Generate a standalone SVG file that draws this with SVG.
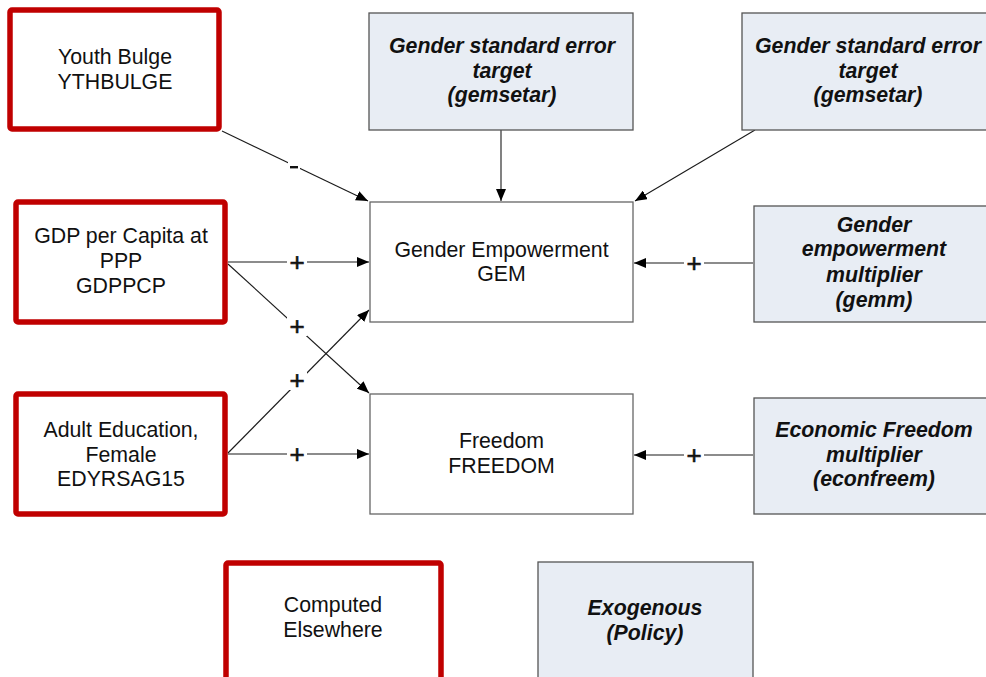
<svg xmlns="http://www.w3.org/2000/svg" width="986" height="677" viewBox="0 0 986 677">
  <defs>
    <marker id="arrow" viewBox="0 0 12 10" refX="12" refY="5" markerWidth="12" markerHeight="10" markerUnits="userSpaceOnUse" orient="auto">
      <path d="M0,0 L12,5 L0,10 Z" fill="#000"/>
    </marker>
    <style>
      text { font-family: "Liberation Sans", Arial, sans-serif; font-size: 21.3px; fill: #111; text-anchor: middle; }
      .bi { font-weight: bold; font-style: italic; }
      .computed { fill: #fff; stroke: #c00000; stroke-width: 5.5; }
      .model { fill: #fff; stroke: #666; stroke-width: 1.3; }
      .policy { fill: #e8edf4; stroke: #555; stroke-width: 1.3; }
      .link { stroke: #1a1a1a; stroke-width: 1.1; fill: none; marker-end: url(#arrow); }
      .sign { font-size: 26px; stroke: #111; stroke-width: 0.6; }
      .pad { fill: #fff; }
    </style>
  </defs>

  <rect width="986" height="677" fill="#fff"/>

  <!-- connectors -->
  <g id="connectors">
    <line class="link" x1="222" y1="131" x2="368" y2="201"/>
    <line class="link" x1="228" y1="262" x2="369" y2="262"/>
    <line class="link" x1="228" y1="264" x2="369" y2="393"/>
    <line class="link" x1="228" y1="453" x2="369" y2="310"/>
    <line class="link" x1="228" y1="454" x2="369" y2="454"/>
    <line class="link" x1="501" y1="130" x2="501" y2="201"/>
    <line class="link" x1="755" y1="130" x2="635" y2="201"/>
    <line class="link" x1="753" y1="263" x2="634" y2="263"/>
    <line class="link" x1="753" y1="455" x2="634" y2="455"/>

    <!-- polarity labels -->
    <rect class="pad" x="288" y="161" width="12" height="11"/>
    <rect x="290" y="166" width="8" height="2.4" fill="#111"/>
    <rect class="pad" x="287" y="252" width="20" height="20"/>
    <text class="sign" x="297" y="271">+</text>
    <rect class="pad" x="287" y="316" width="20" height="20"/>
    <text class="sign" x="297" y="335">+</text>
    <rect class="pad" x="287" y="370" width="20" height="20"/>
    <text class="sign" x="297" y="389">+</text>
    <rect class="pad" x="287" y="444" width="20" height="20"/>
    <text class="sign" x="297" y="463">+</text>
    <rect class="pad" x="684" y="253" width="20" height="20"/>
    <text class="sign" x="694" y="272">+</text>
    <rect class="pad" x="684" y="445" width="20" height="20"/>
    <text class="sign" x="694" y="464">+</text>
  </g>

  <g id="youth-bulge">
    <rect class="computed" x="10" y="10" width="209" height="119" rx="2"/>
    <text x="115" y="64">Youth Bulge</text>
    <text x="115" y="89">YTHBULGE</text>
  </g>

  <g id="gdppcp">
    <rect class="computed" x="16" y="202" width="209" height="120" rx="2"/>
    <text x="121" y="243">GDP per Capita at</text>
    <text x="121" y="268">PPP</text>
    <text x="121" y="293">GDPPCP</text>
  </g>

  <g id="edyrsag15">
    <rect class="computed" x="16" y="394" width="209" height="120" rx="2"/>
    <text x="121" y="437">Adult Education,</text>
    <text x="121" y="462">Female</text>
    <text x="121" y="486">EDYRSAG15</text>
  </g>

  <g id="gemsetar-1">
    <rect class="policy" x="369" y="13" width="264" height="117"/>
    <text class="bi" x="502" y="53">Gender standard error</text>
    <text class="bi" x="502" y="78">target</text>
    <text class="bi" x="502" y="102">(gemsetar)</text>
  </g>

  <g id="gemsetar-2">
    <rect class="policy" x="742" y="13" width="264" height="117"/>
    <text class="bi" x="868" y="53">Gender standard error</text>
    <text class="bi" x="868" y="78">target</text>
    <text class="bi" x="868" y="102">(gemsetar)</text>
  </g>

  <g id="gem">
    <rect class="model" x="370" y="202" width="263" height="120"/>
    <text x="501.5" y="257">Gender Empowerment</text>
    <text x="501.5" y="281">GEM</text>
  </g>

  <g id="gemm">
    <rect class="policy" x="754" y="206" width="242" height="116"/>
    <text class="bi" x="874" y="232">Gender</text>
    <text class="bi" x="874" y="256">empowerment</text>
    <text class="bi" x="874" y="282">multiplier</text>
    <text class="bi" x="874" y="307">(gemm)</text>
  </g>

  <g id="freedom">
    <rect class="model" x="370" y="394" width="263" height="120"/>
    <text x="501.5" y="448">Freedom</text>
    <text x="501.5" y="473">FREEDOM</text>
  </g>

  <g id="econfreem">
    <rect class="policy" x="754" y="398" width="242" height="116"/>
    <text class="bi" x="874" y="437">Economic Freedom</text>
    <text class="bi" x="874" y="462">multiplier</text>
    <text class="bi" x="874" y="486">(econfreem)</text>
  </g>

  <g id="legend-computed">
    <rect class="computed" x="226" y="563" width="215" height="120" rx="2"/>
    <text x="333" y="612">Computed</text>
    <text x="333" y="637">Elsewhere</text>
  </g>

  <g id="legend-exogenous">
    <rect class="policy" x="538" y="562" width="215" height="120"/>
    <text class="bi" x="645" y="615">Exogenous</text>
    <text class="bi" x="645" y="640">(Policy)</text>
  </g>
</svg>
